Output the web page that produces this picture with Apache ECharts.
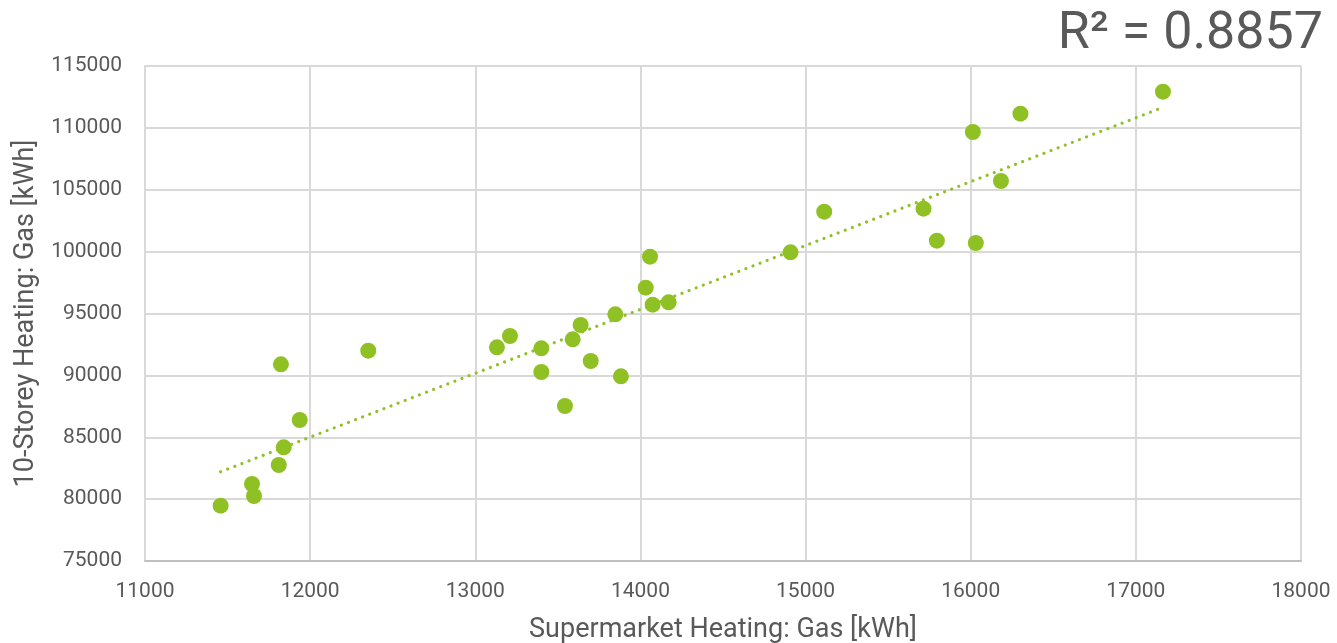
<!DOCTYPE html>
<html>
<head>
<meta charset="utf-8">
<script src="https://cdn.jsdelivr.net/npm/echarts@6/dist/echarts.min.js"></script>
<style>
html,body{margin:0;padding:0;background:#fff;}
#chart{width:1337px;height:643px;}
</style>
</head>
<body>
<div id="chart"></div>
<script>
// Supermarket heating gas [kWh]
const supermarketGas = [11458, 11648, 11660, 11810, 11840, 11823, 11937, 12352,
  13131, 13210, 13400, 13400, 13543, 13590, 13638, 13699, 13848, 13882,
  14032, 14058, 14074, 14171,
  14909, 15113, 15714, 15795, 16013, 16031, 16183, 16301, 17164];
// 10-storey heating gas [kWh]
const storeyGas = [79470, 81222, 80253, 82758, 84188, 90895, 86394, 91994,
  92269, 93182, 92187, 90273, 87525, 92915, 94071, 91162, 94935, 89925,
  97085, 99590, 95711, 95905,
  99945, 103229, 103471, 100886, 109667, 100697, 105707, 111148, 112926];
const xTicks = [11000, 12000, 13000, 14000, 15000, 16000, 17000, 18000];
const yTicks = [75000, 80000, 85000, 90000, 95000, 100000, 105000, 110000, 115000];
const r2Label = 'R\u00B2 = 0.8857';
const xTitle = 'Supermarket Heating: Gas [kWh]';
const yTitle = '10-Storey Heating: Gas [kWh]';

const points = supermarketGas.map((x, i) => [x, storeyGas[i]]);
// least-squares trendline derived from the data
const n = points.length;
let sx = 0, sy = 0, sxx = 0, sxy = 0;
points.forEach(([x, y]) => { sx += x; sy += y; sxx += x * x; sxy += x * y; });
const slope = (n * sxy - sx * sy) / (n * sxx - sx * sx);
const icpt = (sy - slope * sx) / n;
const xMin = Math.min(...supermarketGas), xMax = Math.max(...supermarketGas);
const trend = [[xMin, icpt + slope * xMin], [xMax, icpt + slope * xMax]];

const FONT = "Roboto, 'Open Sans', sans-serif";
const TXT = '#595959';
const green = '#8FC125';
const plain = v => String(v);
const chart = echarts.init(document.getElementById('chart'), null, {renderer: 'canvas'});
chart.setOption({
  animation: false,
  backgroundColor: '#ffffff',
  title: {
    text: r2Label,
    right: 9, top: 4,
    textStyle: {fontFamily: FONT, fontSize: 52, fontWeight: 'normal', color: TXT}
  },
  grid: {left: 145, top: 66, right: 36, bottom: 82, containLabel: false, outerBoundsMode: 'none'},
  xAxis: {
    type: 'value',
    min: xTicks[0], max: xTicks[xTicks.length - 1], interval: 1000,
    name: xTitle, nameLocation: 'middle', nameGap: 56,
    nameTextStyle: {fontFamily: FONT, fontSize: 27, color: TXT},
    axisLine: {show: true, lineStyle: {color: '#bfbfbf', width: 2}},
    axisTick: {show: false},
    axisLabel: {fontFamily: FONT, fontSize: 21, color: TXT, margin: 20, formatter: plain},
    splitLine: {show: true, lineStyle: {color: '#d9d9d9', width: 2}}
  },
  yAxis: {
    type: 'value',
    min: yTicks[0], max: yTicks[yTicks.length - 1], interval: 5000,
    name: yTitle, nameLocation: 'middle', nameGap: 105,
    nameTextStyle: {fontFamily: FONT, fontSize: 27, color: TXT},
    axisLine: {show: true, lineStyle: {color: '#d9d9d9', width: 2}},
    axisTick: {show: false},
    axisLabel: {fontFamily: FONT, fontSize: 21, color: TXT, margin: 23, formatter: plain},
    splitLine: {show: true, lineStyle: {color: '#d9d9d9', width: 2}}
  },
  series: [
    {
      type: 'line',
      data: trend,
      showSymbol: false,
      symbol: 'none',
      silent: true,
      z: 3,
      lineStyle: {color: green, width: 3.2, type: [0.01, 7.6], cap: 'round'}
    },
    {
      type: 'scatter',
      data: points,
      symbol: 'circle',
      symbolSize: 16,
      z: 4,
      itemStyle: {color: green, opacity: 1}
    }
  ]
});
</script>
</body>
</html>
